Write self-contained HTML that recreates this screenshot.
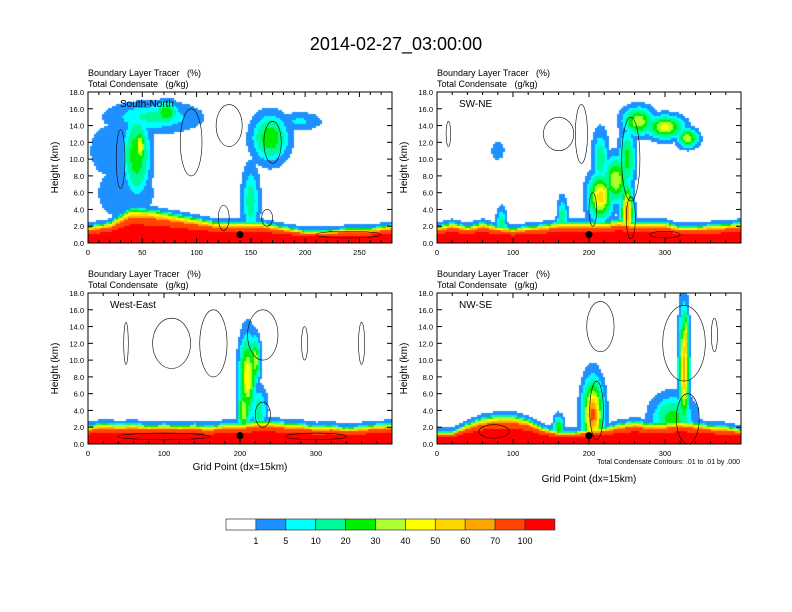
<!DOCTYPE html>
<html><head><meta charset="utf-8"><style>
body{margin:0;background:#fff;}
#wrap{position:relative;width:792px;height:612px;overflow:hidden;font-family:"Liberation Sans",sans-serif;}
canvas{position:absolute;}
svg{position:absolute;left:0;top:0;}
text{white-space:pre;}
</style></head><body>
<div id="wrap">
<canvas id="c0"></canvas>
<canvas id="c1"></canvas>
<canvas id="c2"></canvas>
<canvas id="c3"></canvas>
<svg id="s" width="792" height="612"></svg>
</div>
<script>
// ---- data ----
const panelNames=["South-North","SW-NE","West-East","NW-SE"];
const xMax=[280,400,400,400];
const xTicks=[[0,50,100,150,200,250],[0,100,200,300],[0,100,200,300],[0,100,200,300]];
const yTicks=[0,2,4,6,8,10,12,14,16,18];
const levels=[1,5,10,20,30,40,50,60,70,100];
const levelLabels=["1","5","10","20","30","40","50","60","70","100"];
const colors=["#ffffff","#1e90ff","#00ffff","#00fa9a","#00ee00","#adff2f","#ffff00","#ffd700","#ffa500","#ff4500","#ff0000"];
// boundary-layer top (km) sampled every 20 grid points
const blTop0=[2,2.5,4.2,4,3.5,3,2.5,2.5,2.5,2.0,1.5,1.5,1.8,1.8,2.2];
const blTop1=[2,2.5,2,2.5,2,1.8,2,2.2,2.5,2.5,2.5,2.5,2.8,2.5,2.5,2.5,2,2,2.2,2.3,2.5];
const blTop2=[2.2,2.6,2.4,2.5,2.3,2.4,2.3,2.4,2.2,2.5,2.5,2.8,2.8,2.6,2.5,2.2,2.3,2.0,2.2,2.4,2.5];
const blTop3=[1.5,1.5,2.5,3.2,3.5,3.5,3.0,2.0,1.5,1.5,1.8,2.0,2.5,2.8,2.5,2.6,2.8,2.6,2.3,2.2,1.8];
// blobs: x, z(km), rx(gp), rz(km), peak(%)
const blobX0=[20,45,60,72,35,168,195,150,48];
const blobZ0=[11,10.5,15,15.5,6,12.5,14.5,5,11.5];
const blobRX0=[15,9,30,8,20,12,15,6,4];
const blobRZ0=[2.5,3.5,1.3,1,2.5,2,0.8,3,1.5];
const blobP0=[4,30,12,30,5,30,6,15,50];
const blobX1=[265,300,330,215,235,250,215,250,165,85,80];
const blobZ1=[14.5,13.8,12.5,5.5,7.5,10,10,3.5,2.5,2,11];
const blobRX1=[15,18,10,12,12,8,8,6,5,5,8];
const blobRZ1=[1.2,1,0.8,2,2,2.5,2.5,2.5,2,1.5,1];
const blobP1=[40,45,40,55,40,25,15,70,20,20,3];
const blobX2=[210,205,225,220];
const blobZ2=[8,4,4,10];
const blobRX2=[8,6,8,5];
const blobRZ2=[3.5,2,2,2];
const blobP2=[50,40,15,40];
const blobX3=[205,325,310,160,327];
const blobZ3=[3.5,9,3,2,12];
const blobRX3=[10,5,20,5,3];
const blobRZ3=[3,5,2,1,3];
const blobP3=[75,65,25,30,60];
// contour outlines: x, z, rx, rz
const cont0=[[95,12,10,4],[130,14,12,2.5],[170,12,8,2.5],[30,10,4,3.5],[125,3,5,1.5],[165,3,5,1],[240,1,30,0.4]];
const cont1=[[160,13,20,2],[190,13,8,3.5],[255,10,12,5],[205,4,5,2],[255,3,6,2.5],[15,13,3,1.5],[300,1,20,0.4]];
const cont2=[[110,12,25,3],[165,12,18,4],[230,13,20,3],[50,12,3,2.5],[285,12,4,2],[360,12,4,2.5],[230,3.5,10,1.5],[100,0.9,60,0.4],[300,0.9,40,0.4]];
const cont3=[[215,14,18,3],[325,12,28,4.5],[365,13,4,2],[330,3,15,3],[210,4,9,3.5],[75,1.5,20,0.8]];
const dotX=[140,200,200,200];

const blTops=[blTop0,blTop1,blTop2,blTop3];
const blobs=[[blobX0,blobZ0,blobRX0,blobRZ0,blobP0],[blobX1,blobZ1,blobRX1,blobRZ1,blobP1],[blobX2,blobZ2,blobRX2,blobRZ2,blobP2],[blobX3,blobZ3,blobRX3,blobRZ3,blobP3]];
const conts=[cont0,cont1,cont2,cont3];
const boxes=[[88,92,304,151],[437,92,304,151],[88,293,304,151],[437,293,304,151]];

const NS="http://www.w3.org/2000/svg";
const svg=document.getElementById('s');
function mk(tag,attrs,parent){const e=document.createElementNS(NS,tag);for(const k in attrs)e.setAttribute(k,attrs[k]);(parent||svg).appendChild(e);return e;}
function txt(x,y,s,size,anchor,parent){const t=mk('text',{x:x,y:y,'font-size':size,'text-anchor':anchor||'start','font-family':'Liberation Sans, sans-serif','xml:space':'preserve'},parent);t.textContent=s;return t;}
function colorFor(v){let i=0;while(i<levels.length&&v>=levels[i])i++;return colors[i];}

boxes.forEach((b,p)=>{
  const [L,T,W,H]=b;
  const sx=x=>L+x/xMax[p]*W, sy=z=>T+H-z/18*H;
  const cv=document.getElementById('c'+p);
  cv.width=W;cv.height=H;cv.style.left=L+'px';cv.style.top=T+'px';
  const ctx=cv.getContext('2d');
  const tops=blTops[p];const bl=blobs[p];
  for(let px=0;px<W;px+=2){
    const gx=(px+1)/W*xMax[p];
    const f=gx/20,i0=Math.min(Math.floor(f),tops.length-1),i1=Math.min(i0+1,tops.length-1);
    const top=tops[i0]+(tops[i1]-tops[i0])*(f-i0);
    for(let py=0;py<H;py+=2){
      const z=(H-py-1)/H*18;
      let v;
      if(z<top){const r=z/top;v=120*(1-Math.pow(r,2.5))+4;}
      else v=4*Math.exp(-(z-top)/0.3);
      for(let k=0;k<bl[0].length;k++){
        const dx=(gx-bl[0][k])/bl[2][k],dz=(z-bl[1][k])/bl[3][k];
        v=Math.max(v,bl[4][k]*Math.exp(-(dx*dx+dz*dz)));
      }
      const c=colorFor(v);
      if(c!=="#ffffff"){ctx.fillStyle=c;ctx.fillRect(px,py,2,2);}
    }
  }
  const g=mk('g',{});
  
  
  conts[p].forEach(c=>{
    const e=mk('ellipse',{cx:sx(c[0]),cy:sy(c[1]),rx:c[2]/xMax[p]*W,ry:c[3]/18*H,fill:'none',stroke:'#000','stroke-width':0.6},g);
    
    
  });
  const d=mk('circle',{cx:sx(dotX[p]),cy:sy(1),r:3.5,fill:'#000'},g);
  
  
  mk('rect',{x:L,y:T,width:W,height:H,fill:'none',stroke:'#000','stroke-width':1},g);
  yTicks.forEach((t,i)=>{
    const y=sy(t);
    mk('line',{x1:L,y1:y,x2:L+5,y2:y,stroke:'#000'},g);
    mk('line',{x1:L+W,y1:y,x2:L+W-5,y2:y,stroke:'#000'},g);
    const lb=txt(L-4,y+3,t.toFixed(1),7.5,'end',g);
    
    
  });
  const step=xTicks[p][1]/5;
  for(let x=0;x<=xMax[p];x+=step){
    const X=sx(x);const major=xTicks[p].includes(x);const len=major?5:3;
    mk('line',{x1:X,y1:T+H,x2:X,y2:T+H-len,stroke:'#000'},g);
    mk('line',{x1:X,y1:T,x2:X,y2:T+len,stroke:'#000'},g);
  }
  xTicks[p].forEach(t=>{
    const lb=txt(sx(t),T+H+12,String(t),7.5,'middle',g);
    
    
  });
  const yl=txt(0,0,'Height (km)',10,'middle',g);
  yl.setAttribute('transform','translate('+(L-30)+','+(T+H/2)+') rotate(-90)');
  
  
  const t1=txt(L,T-16,'Boundary Layer Tracer   (%)',9,'start',g);
  
  
  const t2=txt(L,T-5,'Total Condensate   (g/kg)',9,'start',g);
  
  
  const nm=txt(L+(p==0?32:22),T+15,panelNames[p],10,'start',g);
  
  
});
const mt=txt(396,50,'2014-02-27_03:00:00',18,'middle');


const x1=txt(240,470,'Grid Point (dx=15km)',10,'middle');


const x2=txt(589,482,'Grid Point (dx=15km)',10,'middle');


const ci=txt(740,464,'Total Condensate Contours: .01 to .01 by .000',7,'end');


// colorbar
const cb=mk('g',{});


const bw=29.9;
colors.forEach((c,i)=>{
  const r=mk('rect',{x:226+i*bw,y:519,width:bw,height:11,fill:c,stroke:'#333','stroke-width':0.7},cb);
  
  
});
levelLabels.forEach((s,i)=>{
  const t=txt(226+(i+1)*bw,544,s,9,'middle',cb);
  
  
});
</script>
</body></html>
